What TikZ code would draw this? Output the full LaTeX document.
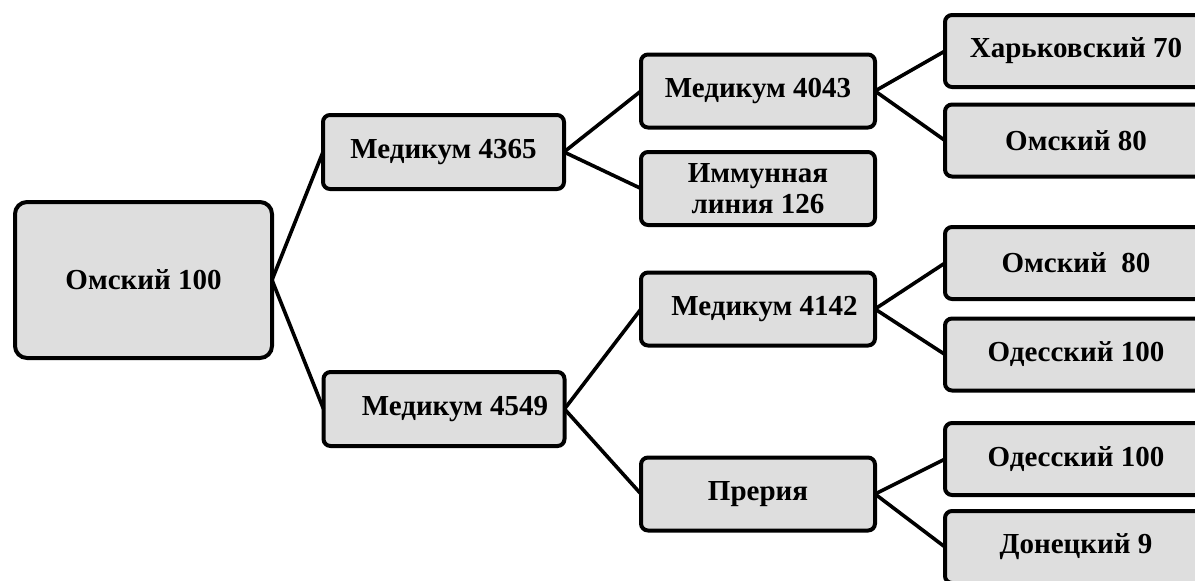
\documentclass[tikz,border=0pt]{standalone}
\usepackage{fontspec}
\setmainfont{Liberation Serif}
\usepackage{tikz}

\definecolor{boxgray}{HTML}{DEDEDE}

\begin{document}
\begin{tikzpicture}[x=0.5pt, y=-0.5pt,
  box/.style={draw, line width=2pt, fill=boxgray, rounded corners=3.5pt,
    font=\bfseries\fontsize{14.5}{15.5}\selectfont, align=center,
    inner sep=2pt, outer sep=0pt},
  rootbox/.style={box, minimum width=128.5pt, minimum height=78pt, rounded corners=6pt},
  midbox/.style={box, minimum width=120.5pt, minimum height=37pt},
  subbox/.style={box, minimum width=117pt, minimum height=36.5pt},
  leafbox/.style={box, minimum width=150pt, minimum height=36pt, anchor=west},
  link/.style={line width=1.8pt}]

% Frame of the page
\useasboundingbox (0,0) rectangle (1195,580);
\clip (0,0) rectangle (1195,580);

% Root
\node[rootbox] (omsk100) at (143.5,280) {Омский 100};

% Second level
\node[midbox] (med4365) at (443.5,152) {Медикум 4365};
\node[midbox] (med4549) at (444,409) {\hspace*{11pt}Медикум 4549};

% Third level
\node[subbox] (med4043) at (758,91) {Медикум 4043};
\node[subbox] (imm126) at (758,188.5) {Иммунная\\линия 126};
\node[subbox] (med4142) at (758,309) {\hspace*{6.5pt}Медикум 4142};
\node[subbox] (preria) at (758,494) {Прерия};

% Leaves (run past the right edge)
\node[leafbox] (khar70) at (945,51) {Харьковский 70\hspace*{19pt}};
\node[leafbox] (omskA) at (945,140.5) {Омский 80\hspace*{19pt}};
\node[leafbox] (omskB) at (945,263) {Омский~~80\hspace*{19pt}};
\node[leafbox] (odesA) at (945,354.5) {Одесский 100\hspace*{19pt}};
\node[leafbox] (odesB) at (945,459) {Одесский 100\hspace*{19pt}};
\node[leafbox] (don9) at (945,547) {Донецкий 9\hspace*{19pt}};

% Links
\draw[link] (omsk100.east) -- (med4365.west);
\draw[link] (omsk100.east) -- (med4549.west);
\draw[link] (med4365.east) -- (med4043.west);
\draw[link] (med4365.east) -- (imm126.west);
\draw[link] (med4549.east) -- (med4142.west);
\draw[link] (med4549.east) -- (preria.west);
\draw[link] (med4043.east) -- (khar70.west);
\draw[link] (med4043.east) -- (omskA.west);
\draw[link] (med4142.east) -- (omskB.west);
\draw[link] (med4142.east) -- (odesA.west);
\draw[link] (preria.east) -- (odesB.west);
\draw[link] (preria.east) -- (don9.west);
\end{tikzpicture}
\end{document}
